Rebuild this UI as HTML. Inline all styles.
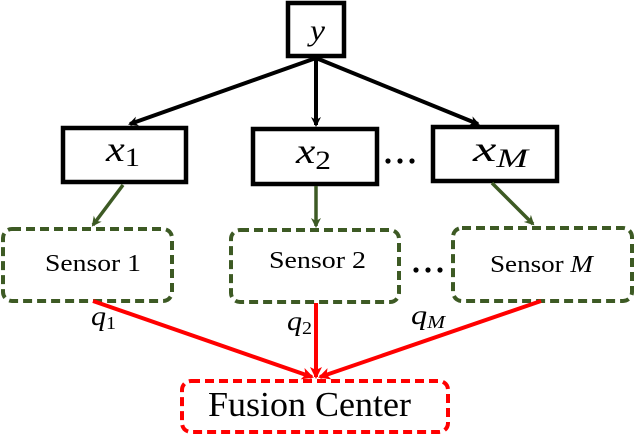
<!DOCTYPE html>
<html><head><style>body{margin:0;background:#fff}svg{display:block}</style></head><body>
<svg width="634" height="436" viewBox="0 0 634 436" xmlns="http://www.w3.org/2000/svg">
<defs>
<marker id="ak" markerWidth="10" markerHeight="10" refX="8" refY="5" orient="auto" markerUnits="userSpaceOnUse" viewBox="0 0 10 10"><path d="M0,0 L10,5 L0,10 L3,5 Z" fill="#000"/></marker>
<marker id="ag" markerWidth="10" markerHeight="10" refX="8" refY="5" orient="auto" markerUnits="userSpaceOnUse" viewBox="0 0 10 10"><path d="M0,0 L10,5 L0,10 L3,5 Z" fill="#3d5a24"/></marker>
<marker id="ar" markerWidth="12" markerHeight="12" refX="10" refY="6" orient="auto" markerUnits="userSpaceOnUse" viewBox="0 0 12 12"><path d="M0,0 L12,6 L0,12 L3,6 Z" fill="#f00"/></marker>
</defs>
<g font-family="Liberation Serif, serif">
<g fill="none" stroke="#000" stroke-width="4.5">
<rect x="288" y="3" width="56" height="53"/>
<rect x="63" y="128" width="123" height="54"/>
<rect x="253" y="129" width="124" height="55"/>
<rect x="433" y="127" width="124" height="54"/>
</g>
<g stroke="#000" stroke-width="4">
<line x1="316" y1="58" x2="130" y2="124" marker-end="url(#ak)"/>
<line x1="316" y1="58" x2="316" y2="125" marker-end="url(#ak)"/>
<line x1="316" y1="58" x2="478" y2="124" marker-end="url(#ak)"/>
</g>
<text x="310" y="40" font-size="30" font-style="italic" textLength="15" lengthAdjust="spacingAndGlyphs">y</text>
<text x="106" y="161" font-size="36" font-style="italic" textLength="34" lengthAdjust="spacingAndGlyphs">x<tspan font-style="normal" font-size="26" dy="5">1</tspan></text>
<text x="296" y="163" font-size="36" font-style="italic" textLength="35" lengthAdjust="spacingAndGlyphs">x<tspan font-style="normal" font-size="26" dy="6">2</tspan></text>
<text x="473" y="161" font-size="36" font-style="italic" textLength="55" lengthAdjust="spacingAndGlyphs">x<tspan font-size="26" dy="6">M</tspan></text>
<g fill="#000"><circle cx="388" cy="161" r="2.6"/><circle cx="400" cy="161" r="2.6"/><circle cx="412" cy="161" r="2.6"/>
<circle cx="416" cy="270" r="2.6"/><circle cx="428" cy="270" r="2.6"/><circle cx="440" cy="270" r="2.6"/></g>
<g stroke="#3d5a24" stroke-width="3.5">
<line x1="123" y1="185" x2="93" y2="225" marker-end="url(#ag)"/>
<line x1="316" y1="186" x2="316" y2="226" marker-end="url(#ag)"/>
<line x1="492" y1="183" x2="533" y2="224" marker-end="url(#ag)"/>
</g>
<g fill="none" stroke="#3d5a24" stroke-width="4" stroke-dasharray="9,5">
<rect x="3" y="229" width="169" height="72" rx="9"/>
<rect x="231" y="230" width="168" height="72" rx="9"/>
<rect x="453" y="228" width="179" height="73" rx="9"/>
</g>
<text x="45" y="271" font-size="24" textLength="96" lengthAdjust="spacingAndGlyphs">Sensor 1</text>
<text x="269" y="268" font-size="24" textLength="97" lengthAdjust="spacingAndGlyphs">Sensor 2</text>
<text x="490" y="272" font-size="24" textLength="103" lengthAdjust="spacingAndGlyphs">Sensor <tspan font-style="italic">M</tspan></text>
<g stroke="#f00" stroke-width="4">
<line x1="93" y1="301" x2="312" y2="377" marker-end="url(#ar)"/>
<line x1="316" y1="303" x2="316" y2="377" marker-end="url(#ar)"/>
<line x1="541" y1="301" x2="320" y2="377" marker-end="url(#ar)"/>
</g>
<rect x="182" y="381" width="266" height="51" rx="9" fill="none" stroke="#f00" stroke-width="4" stroke-dasharray="9,5"/>
<text x="208" y="416" font-size="35" textLength="203" lengthAdjust="spacingAndGlyphs">Fusion Center</text>
<text x="91" y="325" font-size="27" font-style="italic" textLength="25" lengthAdjust="spacingAndGlyphs">q<tspan font-style="normal" font-size="18" dy="4">1</tspan></text>
<text x="287" y="330" font-size="27" font-style="italic" textLength="25" lengthAdjust="spacingAndGlyphs">q<tspan font-style="normal" font-size="18" dy="4">2</tspan></text>
<text x="411" y="324" font-size="27" font-style="italic" textLength="34" lengthAdjust="spacingAndGlyphs">q<tspan font-size="18" dy="4">M</tspan></text>
</g>
</svg>
</body></html>
